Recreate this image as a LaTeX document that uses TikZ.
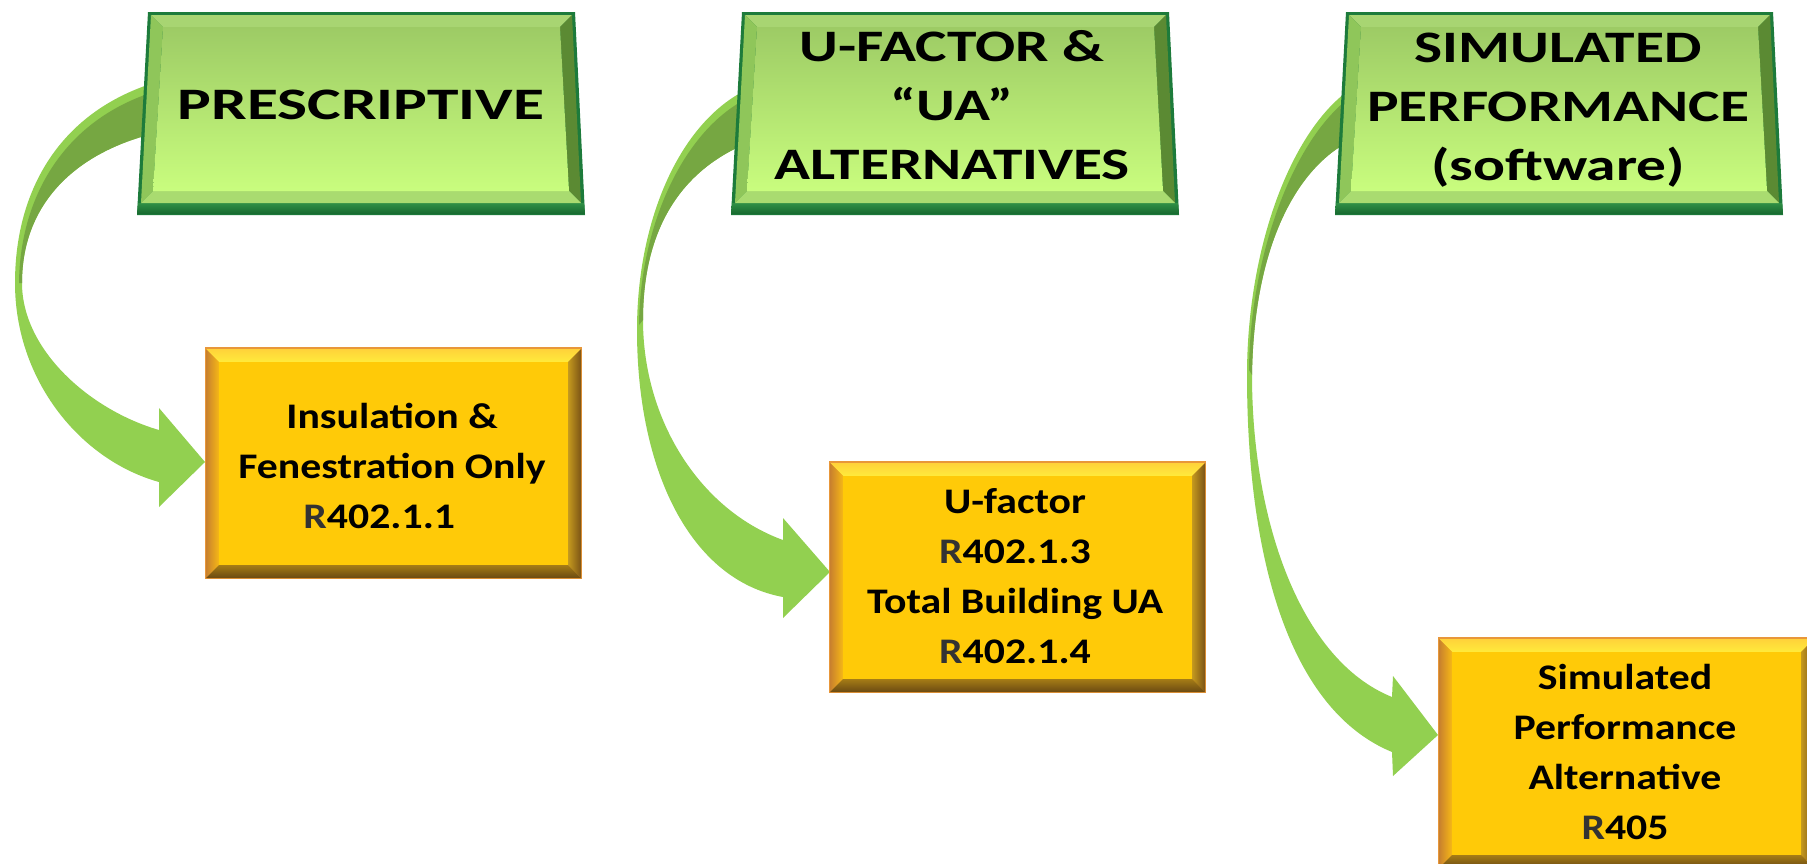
\documentclass[tikz,border=0pt]{standalone}
\usepackage{fontspec}
\setmainfont{Carlito}
\usepackage{graphicx}
\definecolor{arrlight}{HTML}{92D050}
\definecolor{arrdark}{HTML}{76A742}
\definecolor{gedge}{HTML}{1D7B3B}
\definecolor{gband1}{HTML}{2F8F45}
\definecolor{gband2}{HTML}{17692F}
\definecolor{gtop}{HTML}{A8D572}
\definecolor{gleft}{HTML}{8FC65A}
\definecolor{gright}{HTML}{5B8A33}
\definecolor{gbot}{HTML}{A9DB70}
\definecolor{gface1}{HTML}{9DCB65}
\definecolor{gface2}{HTML}{C9FD7E}
\definecolor{oedge}{HTML}{E8973A}
\definecolor{otop1}{HTML}{FFD23A}
\definecolor{otop2}{HTML}{FFEB3B}
\definecolor{oleft1}{HTML}{C8802E}
\definecolor{oleft2}{HTML}{F6B816}
\definecolor{oright1}{HTML}{C59A1E}
\definecolor{oright2}{HTML}{7C5416}
\definecolor{obot1}{HTML}{A57C16}
\definecolor{obot2}{HTML}{6B4A12}
\definecolor{oface}{HTML}{FFCA08}
\definecolor{rgray}{HTML}{333333}
\tikzset{
  arrowbody/.style={fill=arrlight, draw=none},
  arrowback/.style={fill=arrdark, draw=none},
  headtext/.style={inner sep=0pt, font=\bfseries, text=black},
  bodytext/.style={inner sep=0pt, font=\bfseries, text=black},
}
\newcommand{\HeadTxt}[2][1.32]{\scalebox{#1}[1]{\fontsize{45}{59}\selectfont\begin{tabular}{@{}c@{}}#2\end{tabular}}}
\newcommand{\BodyTxt}[1]{\scalebox{1.16}[1]{\fontsize{36}{50}\selectfont\begin{tabular}{@{}c@{}}#1\end{tabular}}}
\newcommand{\Rg}{\textcolor{rgray}{R}}
\newcommand{\GreenBox}[1]{%
\begin{scope}[shift={(#1,0)}]
 \fill[gedge] (148,12) -- (575,12) -- (585,215) -- (137,215) -- cycle;
 \shade[top color=gband1, bottom color=gband2] (138,203) -- (584,203) -- (585,214) -- (137,214) -- cycle;
 \fill[gtop] (151,15) -- (572,15) -- (560,27) -- (163,27) -- cycle;
 \fill[gleft] (151,15) -- (163,27) -- (153,191) -- (141,203) -- cycle;
 \fill[gright] (572,15) -- (581,203) -- (569,191) -- (560,27) -- cycle;
 \fill[gbot] (141,203) -- (153,191) -- (569,191) -- (581,203) -- cycle;
 \shade[top color=gface1, bottom color=gface2] (163,27) -- (560,27) -- (569,191) -- (153,191) -- cycle;
\end{scope}}
\newcommand{\OrangeBox}[2]{%
\begin{scope}[shift={(#1,#2)}]
 \fill[oedge] (0,0) rectangle (377,232);
 \shade[top color=otop1, bottom color=otop2] (1,2) -- (376,2) -- (363,15) -- (14,15) -- cycle;
 \shade[left color=oleft1, right color=oleft2] (1,2) -- (14,15) -- (14,218) -- (1,231) -- cycle;
 \shade[left color=oright1, right color=oright2] (376,2) -- (376,231) -- (363,218) -- (363,15) -- cycle;
 \shade[top color=obot1, bottom color=obot2] (1,231) -- (14,218) -- (363,218) -- (376,231) -- cycle;
 \fill[oface] (14,15) rectangle (363,218);
\end{scope}}
\begin{document}
\begin{tikzpicture}[x=1pt, y=-1pt]
\path[use as bounding box] (0,0) rectangle (1807,863);
\clip (0,0) rectangle (1807,863);
\fill[white] (0,0) rectangle (1807,863);

% curved arrows
\fill[arrowbody] (160,81) .. controls (60,110) and (15,190) .. (15,283) .. controls (15,380) and (80,460) .. (159,482) -- (159,507) -- (205,462) -- (159,408) -- (159,430) .. controls (90,410) and (22,350) .. (22,283) .. controls (22,200) and (80,150) .. (160,132) -- cycle;
\fill[arrowback] (160,90) .. controls (66,117) and (20,195) .. (19,283) -- (22,283) .. controls (22,200) and (80,150) .. (160,132) -- cycle;

\fill[arrowbody] (750,88) .. controls (680,120) and (637,220) .. (637,330) .. controls (637,470) and (690,580) .. (783,597) -- (783,618) -- (830,572) -- (783,518) -- (783,540) .. controls (700,510) and (643,420) .. (643,320) .. controls (643,230) and (680,170) .. (750,142) -- cycle;
\fill[arrowback] (750,97) .. controls (684,128) and (640,225) .. (639,325) -- (643,320) .. controls (643,230) and (680,170) .. (750,142) -- cycle;

\fill[arrowbody] (1352,88) .. controls (1290,130) and (1247,250) .. (1247,375) .. controls (1247,560) and (1290,710) .. (1392,752) -- (1393,776) -- (1438,735) -- (1393,676) -- (1392,697) .. controls (1300,660) and (1252,520) .. (1252,375) .. controls (1254,240) and (1300,165) .. (1352,140) -- cycle;
\fill[arrowback] (1352,96) .. controls (1294,137) and (1250,255) .. (1249,370) -- (1252,375) .. controls (1254,240) and (1300,165) .. (1352,140) -- cycle;

% boxes
\GreenBox{0}
\GreenBox{594}
\GreenBox{1198}
\OrangeBox{205}{347}
\OrangeBox{829}{461}
\OrangeBox{1438}{637}

% texts
\node[headtext] (h1) at (361,108) {\HeadTxt[1.41]{PRESCRIPTIVE}};
\node[headtext] (h2) at (952,109) {\HeadTxt{U-FACTOR \&\\“UA”\\ALTERNATIVES}};
\node[headtext] (h3) at (1558,110) {\HeadTxt{SIMULATED\\PERFORMANCE\\(software)}};
\node[bodytext] (b1) at (392,468) {\BodyTxt{Insulation \&\\Fenestration Only\\\Rg402.1.1\hspace*{22pt}}};
\node[bodytext] (b2) at (1015,578) {\BodyTxt{U-factor\\\Rg402.1.3\\Total Building UA\\\Rg402.1.4}};
\node[bodytext] (b3) at (1625,754) {\BodyTxt{Simulated\\Performance\\Alternative\\\Rg405}};
\end{tikzpicture}
\end{document}
